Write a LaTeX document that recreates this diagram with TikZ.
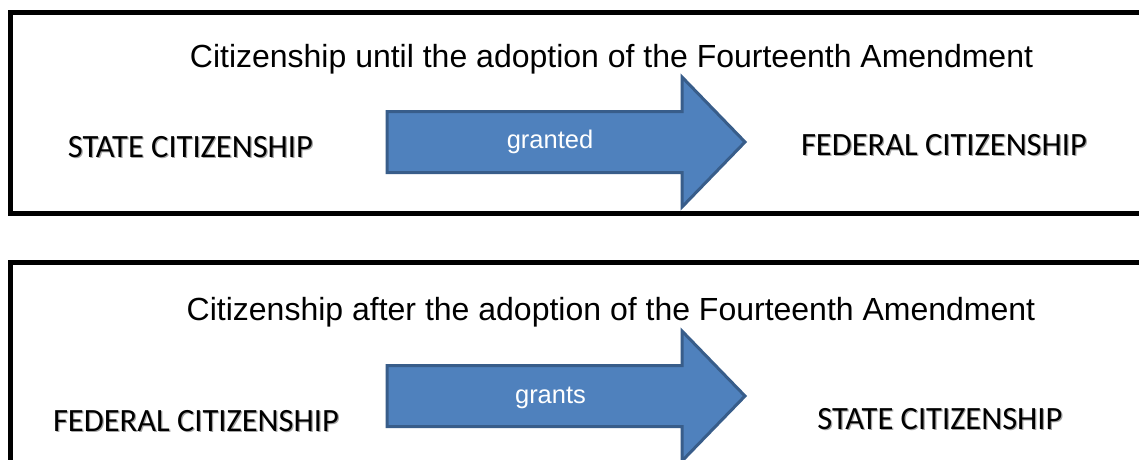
\documentclass[tikz,border=0pt]{standalone}
\usepackage{fontspec}
\setmainfont{Liberation Sans}
\newfontfamily\calibrifont{Carlito}
\definecolor{arrowfill}{HTML}{4F81BD}
\definecolor{arrowedge}{HTML}{385D8A}
\begin{document}
\begin{tikzpicture}[x=1pt,y=-1pt,
  frame/.style={draw=black,line width=5pt},
  blockarrow/.style={fill=arrowfill,draw=arrowedge,line width=3pt,line join=miter},
  titletext/.style={font=\fontsize{32}{38}\selectfont,text=black,inner sep=0pt,anchor=base},
  citlabel/.style={font=\calibrifont\fontsize{32.5}{38}\selectfont,text=black,inner sep=0pt,anchor=base},
  citshadow/.style={citlabel,text=black!35,xshift=1.2pt,yshift=-1.2pt},
  arrowlabel/.style={font=\fontsize{25.5}{30}\selectfont,text=white,inner sep=0pt,anchor=base}]
\useasboundingbox (0,0) rectangle (1139,459);
\clip (0,0) rectangle (1139,459);
\fill[white] (0,0) rectangle (1139,459);
% frames
\draw[frame] (10.5,12.5) rectangle (1170,213.5);
\draw[frame] (10.5,262.5) rectangle (1170,490);
% arrows
\draw[blockarrow] (387,111.5) -- (682,111.5) -- (682,77) -- (745,142) -- (682,207) -- (682,172.5) -- (387,172.5) -- cycle;
\draw[blockarrow] (387,365.5) -- (682,365.5) -- (682,331) -- (745,396) -- (682,461) -- (682,426.5) -- (387,426.5) -- cycle;
% texts
\node[titletext] (t1) at (611.5,67) {Citizenship until the adoption of the Fourteenth Amendment};
\node[titletext] (t2) at (611,320) {Citizenship after the adoption of the Fourteenth Amendment};
\node[citshadow] (s1sh) at (190.5,157) {STATE CITIZENSHIP};
\node[citshadow] (f1sh) at (944,155.5) {FEDERAL CITIZENSHIP};
\node[citshadow] (f2sh) at (196,431.5) {FEDERAL CITIZENSHIP};
\node[citshadow] (s2sh) at (940,429) {STATE CITIZENSHIP};
\node[citlabel] (s1) at (190.5,157) {STATE CITIZENSHIP};
\node[citlabel] (f1) at (944,155.5) {FEDERAL CITIZENSHIP};
\node[citlabel] (f2) at (196,431.5) {FEDERAL CITIZENSHIP};
\node[citlabel] (s2) at (940,429) {STATE CITIZENSHIP};
\node[arrowlabel] (g1) at (550,148) {granted};
\node[arrowlabel] (g2) at (550.5,403) {grants};
\end{tikzpicture}
\end{document}
